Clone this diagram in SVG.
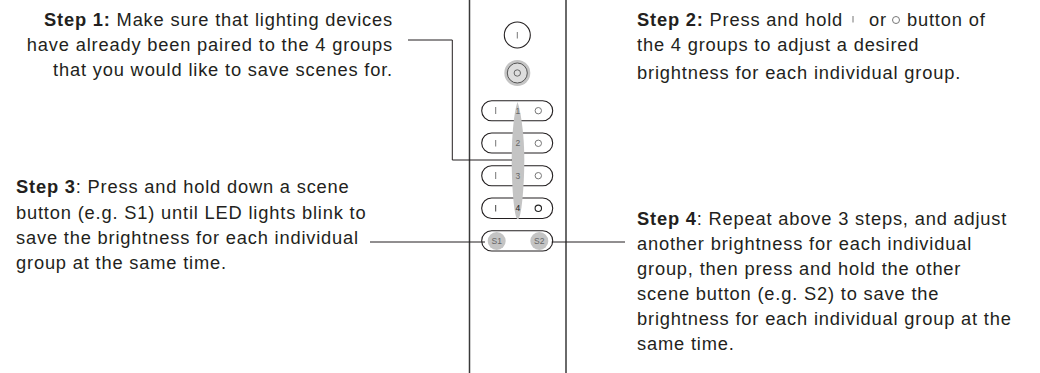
<svg xmlns="http://www.w3.org/2000/svg" width="1040" height="373" viewBox="0 0 1040 373">
<style>
text{font-family:"Liberation Sans",Arial,sans-serif;font-size:18.3px;fill:#231f20;letter-spacing:.82px}
.e{text-anchor:end}
.b{font-weight:bold}
.o{fill:none;stroke:#231f20;stroke-width:1.1}
.p{fill:#fff;stroke:#231f20;stroke-width:1.1}
.g{fill:#c4c4c4;stroke:none}
.i{stroke:#777;stroke-width:1;fill:none}
.n{font-size:8.5px;text-anchor:middle;fill:#666;letter-spacing:0}
.c{fill:none;stroke:#231f20;stroke-width:1}
</style>
<rect width="1040" height="373" fill="#fff"/>
<g id="remote">
<path d="M469.500 0V373M566 0V373" fill="none" stroke="#3a3a3a" stroke-width="1.500"/>
</g>
<g id="top-button"><circle cx="517.300" cy="35" r="13" class="o"/><path d="M517.300 32V38.500" class="i"/></g>
<g id="all-off-button"><circle cx="517.300" cy="73" r="13" class="g"/><circle cx="517.300" cy="73" r="10" fill="#ddd" stroke="#555" stroke-width="1"/><circle cx="517.300" cy="73" r="3.200" fill="none" stroke="#666" stroke-width="1"/></g>
<g id="group-1"><rect x="481.700" y="100.700" width="71" height="20" rx="10" class="p"/><path d="M495.700 107V114" class="i"/><circle cx="538.300" cy="110.700" r="3.200" class="i"/></g>
<g id="group-2"><rect x="481.700" y="133" width="71" height="20" rx="10" class="p"/><path d="M495.700 140V146.500" class="i"/><circle cx="538.300" cy="143.300" r="3.200" class="i"/></g>
<g id="group-3"><rect x="481.700" y="165.700" width="71" height="20" rx="10" class="p"/><path d="M495.700 172V179" class="i"/><circle cx="538.300" cy="175.700" r="3.200" class="i"/></g>
<g id="group-4"><rect x="481.700" y="198" width="71" height="20.500" rx="10" class="p"/><path d="M495.700 205V211.500" stroke="#444" fill="none"/><circle cx="538.300" cy="208.300" r="3.200" fill="none" stroke="#222" stroke-width="1.100"/></g>
<g id="group-highlight"><path d="M517.500 102C514 112 511.700 135 511.700 160C511.700 185 514 219.300 517.800 219.300C521.500 219.300 524.300 185 524.300 160C524.300 135 521 112 517.500 102Z" class="g"/>
<text x="517.800" y="113.500" class="n">1</text><text x="517.800" y="146" class="n">2</text><text x="517.800" y="178.700" class="n">3</text><text x="517.800" y="210.700" class="n" style="fill:#222">4</text></g>
<g id="scene-buttons"><rect x="481.700" y="230.700" width="71" height="20.300" rx="10" class="p"/><circle cx="496.700" cy="241" r="9" class="g"/><circle cx="539.300" cy="241" r="9" class="g"/><text x="496.700" y="244" class="n">S1</text><text x="539.300" y="244" class="n">S2</text></g>
<g id="connectors">
<path d="M408 40H452.300V160H512" class="c" stroke="#555"/>
<path d="M370 242H485" class="c"/>
<path d="M551.700 242H625" class="c"/>
</g>
<g id="step-1">
<text x="393" y="26" class="e"><tspan class="b">Step 1:</tspan> Make sure that lighting devices</text>
<text x="393" y="51" class="e">have already been paired to the 4 groups</text>
<text x="393" y="76" class="e">that you would like to save scenes for.</text>
</g>
<g id="step-2">
<text x="637" y="26"><tspan class="b">Step 2:</tspan> Press and hold</text>
<path d="M853 16V22.500" class="i"/>
<text x="869" y="26">or</text>
<circle cx="896" cy="20" r="3.500" class="i"/>
<text x="907" y="26">button of</text>
<text x="637" y="51">the 4 groups to adjust a desired</text>
<text x="637" y="79">brightness for each individual group.</text>
</g>
<g id="step-3">
<text x="16" y="193"><tspan class="b">Step 3</tspan>: Press and hold down a scene</text>
<text x="16" y="219">button (e.g. S1) until LED lights blink to</text>
<text x="16" y="244">save the brightness for each individual</text>
<text x="16" y="269">group at the same time.</text>
</g>
<g id="step-4">
<text x="637" y="225"><tspan class="b">Step 4</tspan>: Repeat above 3 steps, and adjust</text>
<text x="637" y="250">another brightness for each individual</text>
<text x="637" y="275">group, then press and hold the other</text>
<text x="637" y="300">scene button (e.g. S2) to save the</text>
<text x="637" y="325">brightness for each individual group at the</text>
<text x="637" y="350">same time.</text>
</g>
</svg>
